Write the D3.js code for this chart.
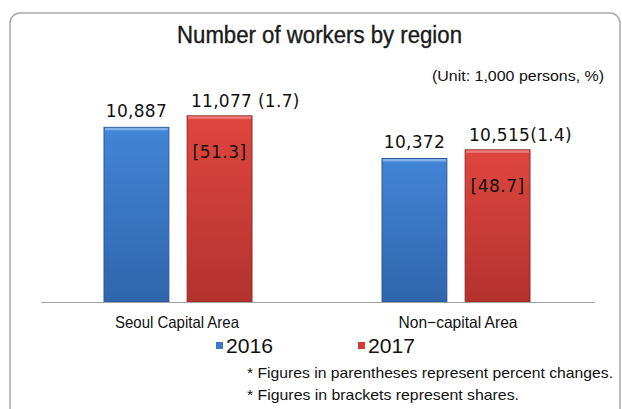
<!DOCTYPE html>
<html><head><meta charset="utf-8">
<script src="https://cdn.jsdelivr.net/npm/d3@7"></script>
<style>body{margin:0;background:#fff}svg{display:block}</style>
</head><body>
<script>
const categories = ["Seoul Capital Area", "Non\u2212capital Area"];
const years = ["2016", "2017"];
const values2016 = [10887, 10372];
const values2017 = [11077, 10515];
const changes2017 = ["(1.7)", "(1.4)"];
const shares2017 = ["[51.3]", "[48.7]"];
const labels2016 = ["10,887", "10,372"];
const labels2017 = ["11,077", "10,515"];
const title = "Number of workers by region";
const unitText = "(Unit: 1,000 persons, %)";
const notes = ["* Figures in parentheses represent percent changes.", "* Figures in brackets represent shares."];

const W = 622, H = 409;
const sans = "'Liberation Sans',Arial,sans-serif";
const numFont = "'DejaVu Sans',sans-serif";

const svg = d3.select("body").append("svg").attr("width", W).attr("height", H);
const defs = svg.append("defs");
function grad(id, c1, c2) {
  const g = defs.append("linearGradient").attr("id", id).attr("x1", 0).attr("y1", 0).attr("x2", 0).attr("y2", 1);
  g.append("stop").attr("offset", "0%").attr("stop-color", c1);
  g.append("stop").attr("offset", "100%").attr("stop-color", c2);
}
grad("gBlue", "#4285d6", "#2f65ab");
grad("gRed", "#e0463f", "#b3322e");
const fills = ["url(#gBlue)", "url(#gRed)"];
const strokes = ["#2a5896", "#8f2a27"];
const hi = ["#8fbcf0", "#f08a84"];
const legendFill = ["#3a78c8", "#d03c37"];

function fit(sel, w) {
  return sel.attr("textLength", w).attr("lengthAdjust", "spacingAndGlyphs");
}

svg.append("rect").attr("x", 10).attr("y", 13).attr("width", 610).attr("height", 420)
  .attr("rx", 10).attr("fill", "none").attr("stroke", "#a8a8a8").attr("stroke-width", 1.5);

fit(svg.append("text").attr("x", 177).attr("y", 43)
  .attr("font-family", sans).attr("font-size", 23).attr("fill", "#1a1a1a")
  .attr("stroke", "#1a1a1a").attr("stroke-width", 0.35).text(title), 285);
fit(svg.append("text").attr("x", 432).attr("y", 81)
  .attr("font-family", sans).attr("font-size", 15.5).attr("fill", "#111").text(unitText), 172);

const x0 = d3.scaleBand().domain(categories).range([41, 595]).paddingInner(0).paddingOuter(0);
const x1 = d3.scaleBand().domain(years).range([0, 148]).paddingInner(0.22);
const y = d3.scaleLinear().domain([8000, 12000]).range([302, 60]);

const g = svg.append("g");
const data = categories.map((c, i) => ({c, i, vals: [values2016[i], values2017[i]]}));
const gx = (c, i) => x0(c) + (i === 0 ? 63 : 64);
const catX = [177, 458];
const catW = [124, 119];

data.forEach(d => {
  years.forEach((yr, j) => {
    const bx = gx(d.c, d.i) + x1(yr), bw = x1.bandwidth(), by = y(d.vals[j]);
    g.append("rect").attr("x", bx).attr("y", by).attr("width", bw).attr("height", y(8000) - by)
      .attr("fill", fills[j]).attr("stroke", strokes[j]).attr("stroke-width", 1);
    g.append("rect").attr("x", bx + 1).attr("y", by + 0.5).attr("width", bw - 2).attr("height", 2.5)
      .attr("fill", hi[j]).attr("opacity", 0.8);
  });
  const b0 = gx(d.c, d.i) + x1("2016") + x1.bandwidth() / 2;
  const b1 = gx(d.c, d.i) + x1("2017") + x1.bandwidth() / 2;
  g.append("text").attr("x", b0).attr("y", y(d.vals[0]) - 10).attr("text-anchor", "middle")
    .attr("font-family", numFont).attr("font-size", 17).attr("letter-spacing", 0.3).attr("fill", "#111").text(labels2016[d.i]);
  const t = g.append("text").attr("y", y(d.vals[1]) - 9)
    .attr("font-family", numFont).attr("font-size", 17).attr("letter-spacing", 0.3).attr("fill", "#111");
  const s1 = t.append("tspan").text(labels2017[d.i]);
  t.append("tspan").text((d.i === 0 ? " " : "") + changes2017[d.i]);
  const w = s1.node().getComputedTextLength();
  t.attr("x", b1 - w / 2 + 2);
  g.append("text").attr("x", b1).attr("y", y(d.vals[1]) + 42).attr("text-anchor", "middle")
    .attr("font-family", numFont).attr("font-size", 17).attr("letter-spacing", 0.5).attr("fill", "#111").text(shares2017[d.i]);
  fit(g.append("text").attr("x", catX[d.i] - catW[d.i] / 2).attr("y", 328)
    .attr("font-family", sans).attr("font-size", 16.5).attr("fill", "#111").text(d.c), catW[d.i]);
});

svg.append("line").attr("x1", 41).attr("x2", 595).attr("y1", 302.5).attr("y2", 302.5)
  .attr("stroke", "#a0a0a0").attr("stroke-width", 1);

const lx = [216, 358];
years.forEach((yr, j) => {
  svg.append("rect").attr("x", lx[j]).attr("y", 342).attr("width", 7).attr("height", 7).attr("fill", legendFill[j]);
  fit(svg.append("text").attr("x", lx[j] + 10).attr("y", 353).attr("font-family", sans).attr("font-size", 21)
    .attr("fill", "#111").text(yr), 47);
});
const noteW = [366, 272];
notes.forEach((n, i) => {
  fit(svg.append("text").attr("x", 247).attr("y", 378 + i * 22).attr("font-family", sans).attr("font-size", 15)
    .attr("fill", "#111").text(n), noteW[i]);
});
</script>
</body></html>
